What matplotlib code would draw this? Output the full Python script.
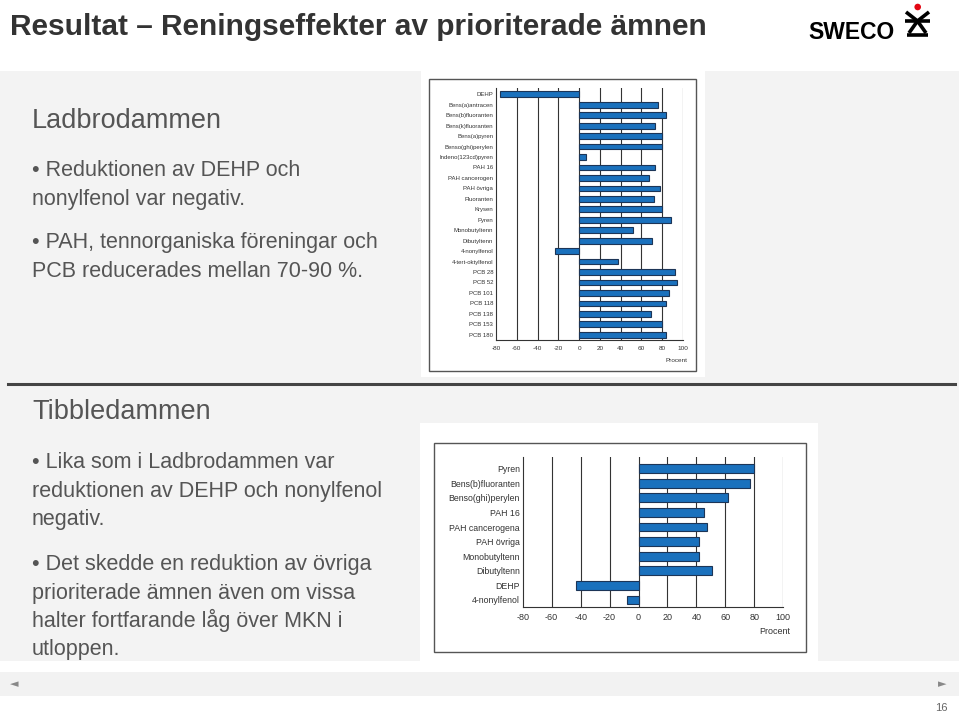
import matplotlib.pyplot as plt
from matplotlib.patches import Rectangle, Circle

# Ladbrodammen
lad_names = ['DEHP', 'Bens(a)antracen', 'Bens(b)fluoranten', 'Bens(k)fluoranten',
             'Bens(a)pyren', 'Benso(ghi)perylen', 'Indeno(123cd)pyren', 'PAH 16',
             'PAH cancerogen', 'PAH övriga', 'Fluoranten', 'Krysen', 'Pyren',
             'Monobutyltenn', 'Dibutyltenn', '4-nonylfenol', '4-tert-oktylfenol',
             'PCB 28', 'PCB 52', 'PCB 101', 'PCB 118', 'PCB 138', 'PCB 153', 'PCB 180']
lad_values = [-76, 76, 84, 73, 80, 80, 7, 73, 67, 78, 72, 80, 88, 52, 70, -23, 37,
              92, 94.5, 86.5, 84, 69, 80, 84]

# Tibbledammen
tib_names = ['Pyren', 'Bens(b)fluoranten', 'Benso(ghi)perylen', 'PAH 16',
             'PAH cancerogena', 'PAH övriga', 'Monobutyltenn', 'Dibutyltenn',
             'DEHP', '4-nonylfenol']
tib_values = [80, 77, 62, 45, 47, 41.5, 41.5, 51, -43, -8]

xticks = [-80, -60, -40, -20, 0, 20, 40, 60, 80, 100]

BAR = '#1a71bd'
EDGE = '#1c3557'
W, H = 959, 714

plt.rcParams['font.family'] = ['Liberation Sans', 'DejaVu Sans']
fig = plt.figure(figsize=(9.59, 7.14), dpi=100, facecolor='white')

# slide background drawn in pixel coordinates
bg = fig.add_axes([0, 0, 1, 1], zorder=0)
bg.set_xlim(0, W)
bg.set_ylim(H, 0)
bg.axis('off')
bg.add_patch(Rectangle((0, 71), W, 590, color='#f3f3f3', lw=0))
bg.add_patch(Rectangle((421, 71), 284, 306, color='white', lw=0))
bg.add_patch(Rectangle((429, 79), 267, 292, fill=False, ec='#555555', lw=1))
bg.add_patch(Rectangle((420, 423), 398, 238, color='white', lw=0))
bg.add_patch(Rectangle((434, 443), 372, 209, fill=False, ec='#555555', lw=1))
bg.plot([8, 955], [384, 384], color='#444444', lw=2.2)
bg.add_patch(Rectangle((0, 672), W, 24, color='#f2f2f2', lw=0))
bg.text(14, 684, '◄', color='#888888', fontsize=8, ha='center', va='center',
        family='DejaVu Sans')
bg.text(942, 684, '►', color='#888888', fontsize=8, ha='center', va='center',
        family='DejaVu Sans')
bg.text(948, 708, '16', color='#666666', fontsize=8, ha='right', va='center')

# title and logo
bg.text(10, 27, 'Resultat – Reningseffekter av prioriterade ämnen', fontsize=21.5,
        fontweight='bold', color='#333333', va='center')
bg.text(808, 32.5, 'SWECO', fontsize=16.5, fontweight='bold', color='black', va='center')
lk = dict(color='black', lw=2.6, solid_capstyle='butt')
bg.plot([906, 917.5, 929], [12, 21, 12], **lk)
bg.plot([905, 930], [21, 21], **lk)
bg.plot([909, 917.5, 926], [33, 21, 33], **lk)
bg.plot([907, 928], [34.5, 34.5], **lk)
bg.add_patch(Circle((917.7, 7), 3.3, color='#e30613', lw=0))

# slide text
txt = dict(color='#555555', va='baseline')
bg.text(32, 128, 'Ladbrodammen', fontsize=19.5, **txt)
bg.text(32, 176, '• Reduktionen av DEHP och', fontsize=15.5, **txt)
bg.text(32, 205, 'nonylfenol var negativ.', fontsize=15.5, **txt)
bg.text(32, 248, '• PAH, tennorganiska föreningar och', fontsize=15.5, **txt)
bg.text(32, 277, 'PCB reducerades mellan 70-90 %.', fontsize=15.5, **txt)
bg.text(32, 419, 'Tibbledammen', fontsize=19.5, **txt)
bg.text(32, 468, '• Lika som i Ladbrodammen var', fontsize=15.5, **txt)
bg.text(32, 496.5, 'reduktionen av DEHP och nonylfenol', fontsize=15.5, **txt)
bg.text(32, 525, 'negativ.', fontsize=15.5, **txt)
bg.text(32, 570, '• Det skedde en reduktion av övriga', fontsize=15.5, **txt)
bg.text(32, 598.5, 'prioriterade ämnen även om vissa', fontsize=15.5, **txt)
bg.text(32, 626.5, 'halter fortfarande låg över MKN i', fontsize=15.5, **txt)
bg.text(32, 655, 'utloppen.', fontsize=15.5, **txt)


def bar_chart(ax, names, values, lab_size, tick_size, bar_h, ylim):
    y = range(len(names))
    ax.barh(y, values, height=bar_h, color=BAR, edgecolor=EDGE, lw=0.8, zorder=3)
    ax.set_xlim(-80, 100)
    ax.set_ylim(*ylim)
    ax.set_xticks(xticks)
    ax.set_xticklabels([str(t) for t in xticks], fontsize=tick_size, color='#333333')
    ax.set_yticks(list(y))
    ax.set_yticklabels(names, fontsize=lab_size, color='#333333')
    ax.tick_params(length=0, pad=2)
    ax.tick_params(axis='x', pad=4)
    for t in xticks[1:]:
        ax.axvline(t, color='#333333', lw=0.8, zorder=1)
    for s in ['top', 'right']:
        ax.spines[s].set_visible(False)
    for s in ['left', 'bottom']:
        ax.spines[s].set_color('#333333')
        ax.spines[s].set_linewidth(0.8)
    ax.set_facecolor('none')


ax1 = fig.add_axes([496 / W, 1 - 340 / H, 187 / W, 252 / H], zorder=2)
bar_chart(ax1, lad_names, lad_values, 4.3, 4.6, 0.55, (23.5, -0.6))
bg.text(688, 360, 'Procent', fontsize=4.6, color='#333333', ha='right', va='center')

ax2 = fig.add_axes([522.7 / W, 1 - 607 / H, 260.6 / W, 150 / H], zorder=2)
bar_chart(ax2, tib_names, tib_values, 6.3, 6.5, 0.6, (9.48, -0.8))
bg.text(790, 632, 'Procent', fontsize=6.5, color='#333333', ha='right', va='center')

fig.savefig('out.png', dpi=100, facecolor='white')
